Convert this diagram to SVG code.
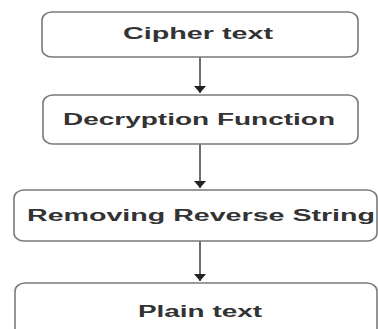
<svg xmlns="http://www.w3.org/2000/svg" width="378" height="329" viewBox="0 0 378 329">
<defs>
<style>
.box{fill:#fff;stroke:#7a7a7a;stroke-width:1.6}
.lbl{font-family:"Liberation Sans",Arial,sans-serif;font-size:16px;font-weight:bold;fill:#333;text-anchor:start}
.conn{stroke:#6e6e6e;stroke-width:2;fill:none}
</style>
<marker id="ah" viewBox="0 0 7 12" refX="7" refY="6" markerWidth="7" markerHeight="12" orient="auto" markerUnits="userSpaceOnUse">
<path d="M0,0 L7,6 L0,12 z" fill="#222"/>
</marker>
</defs>
<rect width="378" height="329" fill="#fff"/>
<g id="connectors">
<line class="conn" x1="200" y1="57" x2="200" y2="93" marker-end="url(#ah)"/>
<line class="conn" x1="200" y1="144" x2="200" y2="188" marker-end="url(#ah)"/>
<line class="conn" x1="200" y1="241" x2="200" y2="281" marker-end="url(#ah)"/>
</g>
<g id="n1">
<rect class="box" x="42" y="12" width="316" height="45" rx="10" ry="8"/>
<text class="lbl" x="123" y="39" textLength="150" lengthAdjust="spacingAndGlyphs">Cipher text</text>
</g>
<g id="n2">
<rect class="box" x="43" y="95" width="315" height="49" rx="10" ry="8"/>
<text class="lbl" x="63" y="125" textLength="272" lengthAdjust="spacingAndGlyphs">Decryption Function</text>
</g>
<g id="n3">
<rect class="box" x="14" y="190" width="363" height="51" rx="10" ry="8"/>
<text class="lbl" x="27" y="221" textLength="348" lengthAdjust="spacingAndGlyphs">Removing Reverse String</text>
</g>
<g id="n4">
<rect class="box" x="15" y="283" width="362" height="60" rx="10" ry="8"/>
<text class="lbl" x="138" y="317" textLength="124" lengthAdjust="spacingAndGlyphs">Plain text</text>
</g>
</svg>
